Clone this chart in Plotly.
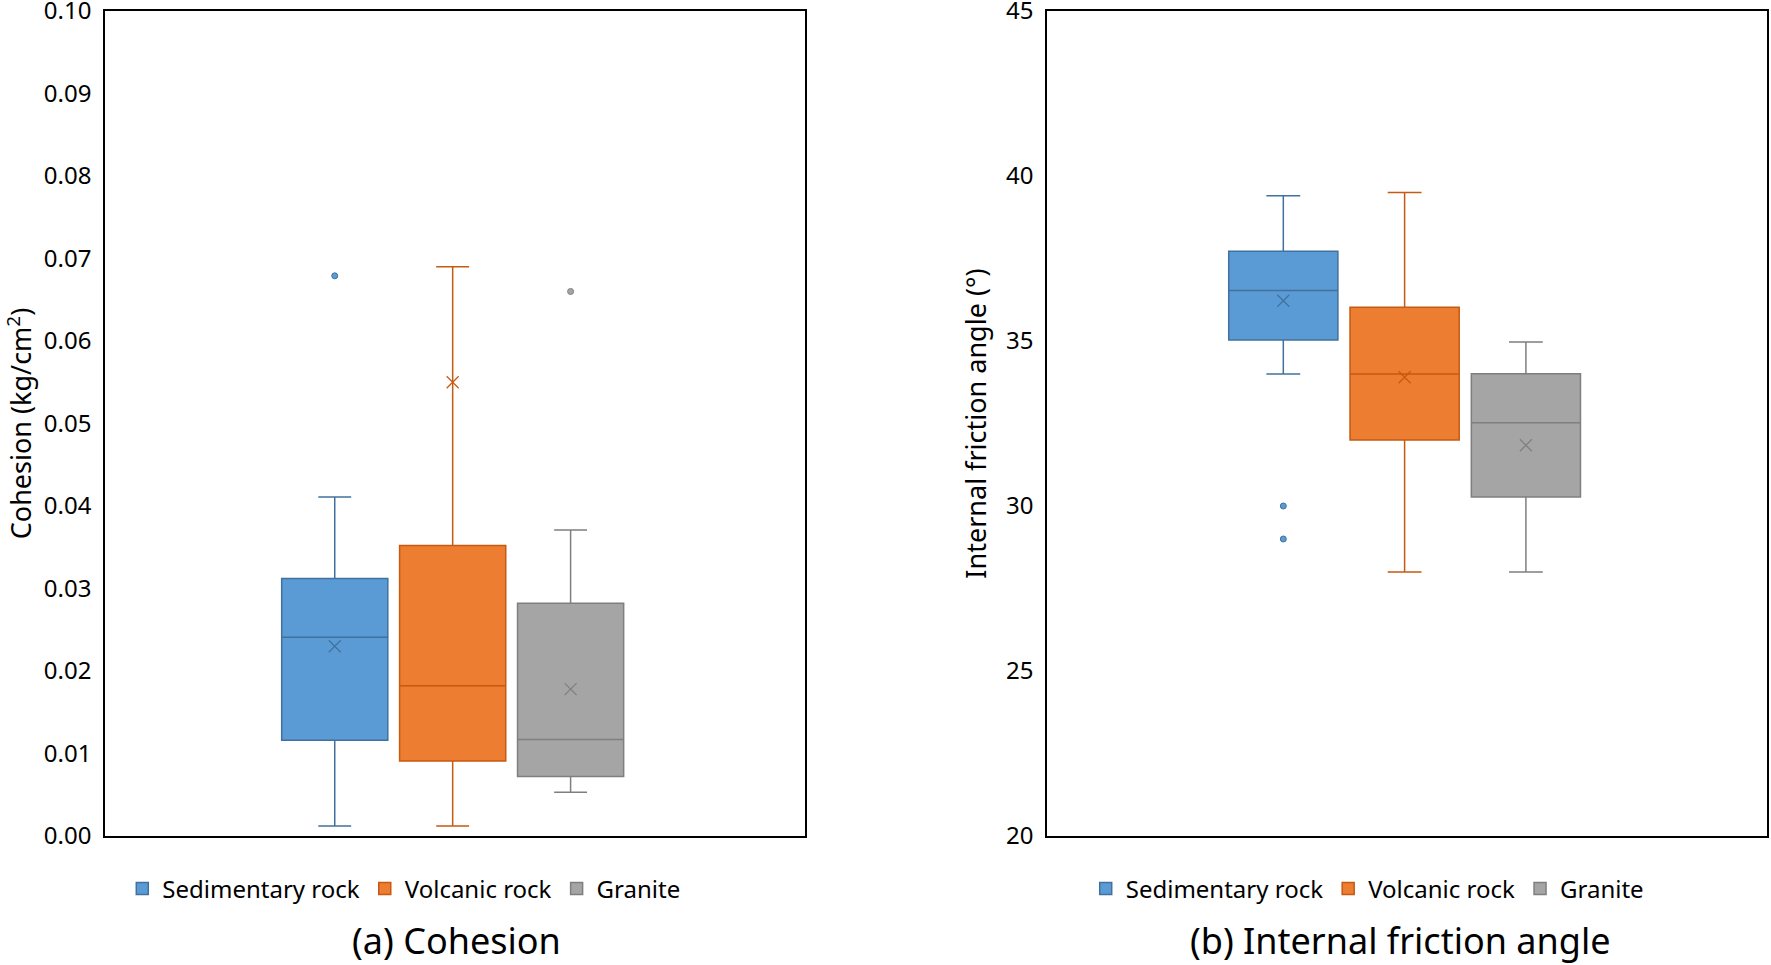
import plotly.graph_objects as go

# rock types and colours
rocks = ["Sedimentary rock", "Volcanic rock", "Granite"]
fills = ["#5B9BD5", "#ED7D31", "#A5A5A5"]
edges = ["#41719C", "#C55A11", "#7F7F7F"]

# (a) cohesion, kg/cm2
coh_low = [0.0012, 0.0012, 0.0053]
coh_q1 = [0.0116, 0.0091, 0.0072]
coh_med = [0.0241, 0.0182, 0.0117]
coh_q3 = [0.0312, 0.0352, 0.0282]
coh_high = [0.0411, 0.0690, 0.0371]
coh_mean = [0.0230, 0.0550, 0.0178]
coh_out = [[0.0679], [], [0.0660]]

# (b) internal friction angle, degrees
fri_low = [34.0, 28.0, 28.0]
fri_q1 = [35.03, 32.0, 30.27]
fri_med = [36.53, 34.0, 32.52]
fri_q3 = [37.72, 36.02, 34.01]
fri_high = [39.4, 39.5, 34.97]
fri_mean = [36.22, 33.9, 31.84]
fri_out = [[30.0, 29.0], [], []]

FONT = "Noto Sans"
fig = go.Figure()


def add_panel(xa, ya, leg, low, q1, med, q3, high, mean, out):
    for i, name in enumerate(rocks):
        fig.add_trace(go.Box(
            x=[i], q1=[q1[i]], median=[med[i]], q3=[q3[i]],
            lowerfence=[low[i]], upperfence=[high[i]],
            name=name, width=0.9, whiskerwidth=0.31,
            fillcolor=fills[i], line=dict(color=edges[i], width=1.5),
            xaxis=xa, yaxis=ya, legend=leg, hoverinfo="skip",
        ))
        # mean shown as a thin x
        fig.add_trace(go.Scatter(
            x=[i], y=[mean[i]], mode="markers",
            marker=dict(symbol="x-thin-open", size=12, color=edges[i],
                        line=dict(color=edges[i], width=1.2)),
            xaxis=xa, yaxis=ya, showlegend=False, hoverinfo="skip",
        ))
        if out[i]:
            fig.add_trace(go.Scatter(
                x=[i] * len(out[i]), y=out[i], mode="markers",
                marker=dict(symbol="circle", size=6, color=fills[i],
                            line=dict(color=edges[i], width=1)),
                xaxis=xa, yaxis=ya, showlegend=False, hoverinfo="skip",
            ))


add_panel("x", "y", "legend", coh_low, coh_q1, coh_med, coh_q3, coh_high, coh_mean, coh_out)
add_panel("x2", "y2", "legend2", fri_low, fri_q1, fri_med, fri_q3, fri_high, fri_mean, fri_out)

xr = [-1.948, 3.987]
frame = dict(showline=True, mirror=True, linecolor="black", linewidth=1.5,
             showgrid=False, zeroline=False, ticks="", automargin=False)
tickfont = dict(family=FONT, size=24, color="black")
titlefont = dict(family=FONT, size=27, color="black")
legfont = dict(family=FONT, size=24, color="black")

fig.update_layout(
    width=1771, height=965,
    paper_bgcolor="white", plot_bgcolor="white",
    margin=dict(l=0, r=0, t=0, b=0),
    font=dict(family=FONT, color="black"),
    xaxis=dict(domain=[0.0593, 0.4545], range=xr, showticklabels=False, **frame),
    xaxis2=dict(domain=[0.5912, 0.9977], range=xr, showticklabels=False, **frame),
    yaxis=dict(domain=[0.1337, 0.9886], range=[0, 0.1], dtick=0.01, tickformat=".2f",
               tickfont=tickfont, ticklabelstandoff=7, ticklabeloverflow="allow",
               title=dict(text="Cohesion (kg/cm<sup>2</sup>)", font=titlefont, standoff=29),
               **frame),
    yaxis2=dict(domain=[0.1337, 0.9886], range=[20, 45], dtick=5, anchor="x2",
                tickfont=tickfont, ticklabelstandoff=7, ticklabeloverflow="allow",
                title=dict(text="Internal friction angle (°)", font=titlefont, standoff=12),
                **frame),
    legend=dict(orientation="h", x=0.228, xanchor="center", y=0.0788, yanchor="middle",
                font=legfont, traceorder="normal"),
    legend2=dict(orientation="h", x=0.772, xanchor="center", y=0.0788, yanchor="middle",
                 font=legfont, traceorder="normal"),
    showlegend=True,
)

fig.add_annotation(text="(a) Cohesion", x=0.258, y=0.025, xref="paper", yref="paper",
                   xanchor="center", yanchor="middle", showarrow=False,
                   font=dict(family=FONT, size=36, color="black"))
fig.add_annotation(text="(b) Internal friction angle", x=0.7906, y=0.025, xref="paper",
                   yref="paper", xanchor="center", yanchor="middle", showarrow=False,
                   font=dict(family=FONT, size=36, color="black"))

# the page body has a default 8px margin; drop it so the figure fills the window
fig.write_html("out.html", config={"displayModeBar": False},
               post_script="document.body.style.margin='0';")
